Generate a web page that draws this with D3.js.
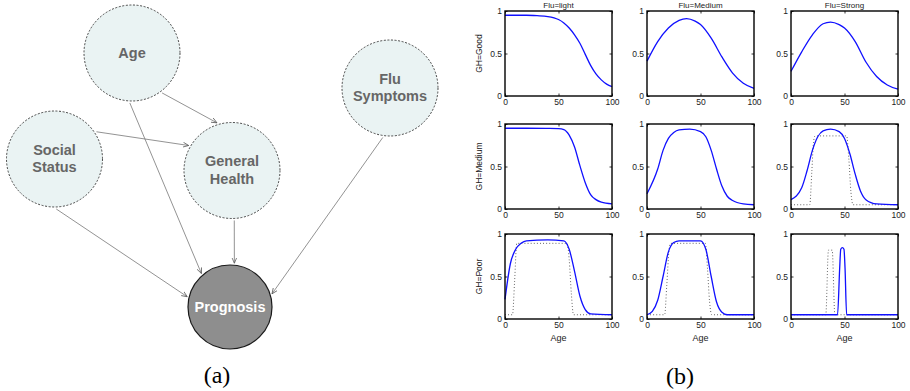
<!DOCTYPE html>
<html>
<head>
<meta charset="utf-8">
<script src="https://cdn.jsdelivr.net/npm/d3@7/dist/d3.min.js"></script>
<style>
  body { margin: 0; background: #fff; }
  svg { display: block; }
</style>
</head>
<body>
<script>
// ---- data: (a) network ----
const nodeIds = ['age', 'flu', 'social', 'gh', 'prog'];
const nodeLabels = [['Age'], ['Flu', 'Symptoms'], ['Social', 'Status'], ['General', 'Health'], ['Prognosis']];
const edgeList = [['age', 'gh'], ['social', 'gh'], ['age', 'prog'], ['social', 'prog'], ['gh', 'prog'], ['flu', 'prog']];

// ---- data: (b) conditional curves ----
const fluLevels = ['light', 'Medium', 'Strong'];
const ghLevels = ['Good', 'Medium', 'Poor'];
const xTicks = [0, 50, 100];
const yTicks = [0, 0.5, 1];

const goodLight = [[0,.95],[20,.95],[30,.945],[40,.935],[50,.9],[55,.86],[60,.8],[65,.72],[70,.62],[75,.49],[80,.36],[85,.26],[90,.19],[95,.14],[100,.11]];
const goodMedium = [[0,.41],[10,.64],[20,.8],[30,.89],[37,.91],[45,.88],[50,.84],[60,.68],[70,.46],[80,.27],[90,.15],[100,.09]];
const goodStrong = [[0,.29],[10,.52],[20,.72],[30,.85],[37,.87],[45,.84],[50,.8],[60,.64],[70,.4],[80,.23],[90,.13],[100,.08]];
const medLight = [[0,.95],[20,.95],[40,.948],[50,.945],[55,.935],[60,.87],[65,.73],[70,.51],[75,.31],[80,.17],[85,.11],[90,.08],[100,.06]];
const medMedium = [[0,.18],[10,.47],[15,.69],[20,.83],[25,.9],[30,.93],[40,.94],[50,.91],[55,.85],[60,.69],[65,.47],[70,.27],[75,.15],[80,.1],[90,.06],[100,.05]];
const medStrong = [[0,.11],[10,.25],[15,.45],[20,.69],[25,.85],[30,.92],[37,.94],[45,.91],[50,.83],[55,.65],[60,.41],[65,.21],[70,.11],[80,.06],[100,.05]];
const poorLight = [[0,.23],[5,.65],[10,.82],[15,.89],[20,.92],[40,.93],[55,.92],[60,.82],[65,.56],[70,.27],[75,.11],[80,.06],[100,.05]];
const poorMedium = [[0,.05],[5,.09],[10,.22],[15,.5],[20,.79],[25,.9],[30,.92],[50,.92],[55,.82],[60,.5],[65,.2],[70,.08],[75,.05],[100,.05]];
const poorStrong = [[0,.05],[43.5,.05],[45.5,.6],[46.5,.82],[48,.84],[49.5,.82],[50.5,.6],[52,.05],[100,.05]];

// dotted reference curves
const medStrongDot = [[0,.05],[17.5,.05],[19.5,.45],[21,.78],[22.5,.86],[52,.86],[54,.6],[56,.2],[58,.05],[100,.05]];
const poorLightDot = [[0,.05],[7,.05],[9,.45],[11,.89],[58,.89],[60,.7],[62,.3],[64,.05],[100,.05]];
const poorMediumDot = [[0,.05],[16.5,.05],[18.5,.4],[20.5,.8],[22,.89],[54.5,.89],[56.5,.6],[58.5,.2],[60.5,.05],[100,.05]];
const poorStrongDot = [[0,.05],[32.5,.05],[35,.81],[38.5,.81],[41,.05],[100,.05]];

const solid = [[goodLight, goodMedium, goodStrong], [medLight, medMedium, medStrong], [poorLight, poorMedium, poorStrong]];
const dotted = [[null, null, null], [null, null, medStrongDot], [poorLightDot, poorMediumDot, poorStrongDot]];

// ---- layout ----
const W = 910, H = 391;
const svg = d3.select('body').append('svg').attr('width', W).attr('height', H);

// node placement (pixel layout, not data)
const layout = {
  age: { x: 132, y: 53, r: 48 },
  flu: { x: 390, y: 88, r: 48 },
  social: { x: 54.5, y: 159, r: 48 },
  gh: { x: 232, y: 170.5, r: 48 },
  prog: { x: 230, y: 307, r: 42 }
};
// attachment angles (deg) of each edge at source / target
const edgeAngles = [[53, -107.5], [-33, -150], [92.5, -130.5], [88, -166.5], [87.4, -84.3], [98.3, -17.4]];

svg.append('defs').append('marker')
  .attr('id', 'arr').attr('viewBox', '0 0 8 8').attr('refX', 7.5).attr('refY', 4)
  .attr('markerWidth', 6).attr('markerHeight', 6).attr('markerUnits', 'userSpaceOnUse')
  .attr('orient', 'auto')
  .append('path').attr('d', 'M0,0.8 L7.5,4 L0,7.2').attr('fill', 'none').attr('stroke', '#555').attr('stroke-width', 1);

const rad = d => d * Math.PI / 180;
svg.append('g').selectAll('line').data(edgeList).join('line')
  .attr('x1', (d, i) => layout[d[0]].x + (layout[d[0]].r + 2) * Math.cos(rad(edgeAngles[i][0])))
  .attr('y1', (d, i) => layout[d[0]].y + (layout[d[0]].r + 2) * Math.sin(rad(edgeAngles[i][0])))
  .attr('x2', (d, i) => layout[d[1]].x + (layout[d[1]].r + 2) * Math.cos(rad(edgeAngles[i][1])))
  .attr('y2', (d, i) => layout[d[1]].y + (layout[d[1]].r + 2) * Math.sin(rad(edgeAngles[i][1])))
  .attr('stroke', '#777').attr('stroke-width', 0.8)
  .attr('marker-end', 'url(#arr)');

const node = svg.append('g').selectAll('g').data(nodeIds).join('g')
  .attr('transform', d => `translate(${layout[d].x},${layout[d].y})`);
node.append('circle')
  .attr('r', d => layout[d].r)
  .attr('fill', d => d === 'prog' ? '#8e8e8e' : '#eaf3f3')
  .attr('stroke', d => d === 'prog' ? '#1a1a1a' : '#333')
  .attr('stroke-width', d => d === 'prog' ? 1.2 : 0.9)
  .attr('stroke-dasharray', d => d === 'prog' ? null : '2,1.6');
node.each(function (d, i) {
  const lines = nodeLabels[i];
  const t = d3.select(this).append('text')
    .attr('text-anchor', 'middle')
    .attr('font-family', '"Liberation Sans", Arial, sans-serif')
    .attr('font-weight', 'bold').attr('font-size', 14.5)
    .attr('fill', d === 'prog' ? '#fff' : '#666');
  lines.forEach((s, j) => {
    t.append('tspan').attr('x', 0)
      .attr('y', lines.length === 1 ? 5 : (j === 0 ? -4.5 : 13))
      .text(s);
  });
});

svg.append('text').attr('x', 217).attr('y', 383).attr('text-anchor', 'middle')
  .attr('font-family', '"Liberation Serif", "DejaVu Serif", serif').attr('font-size', 24).text('(a)');
svg.append('text').attr('x', 680).attr('y', 384).attr('text-anchor', 'middle')
  .attr('font-family', '"Liberation Serif", "DejaVu Serif", serif').attr('font-size', 24).text('(b)');

// ---- (b) small multiples ----
const colX = [505, 647, 791];
const rowY = [11, 124, 234];
const pw = 107, ph = 85;
const x = d3.scaleLinear().domain([0, 100]).range([0, pw]);
const y = d3.scaleLinear().domain([0, 1]).range([ph, 0]);
const line = d3.line().x(d => x(d[0])).y(d => y(d[1])).curve(d3.curveMonotoneX);
const font = '"Liberation Sans", Arial, sans-serif';

ghLevels.forEach((gh, r) => {
  fluLevels.forEach((flu, c) => {
    const g = svg.append('g').attr('transform', `translate(${colX[c]},${rowY[r]})`);

    const styleAxis = sel => {
      sel.selectAll('text').attr('font-family', font).attr('font-size', 8.5).attr('fill', '#222');
      sel.selectAll('.tick line').attr('stroke', '#000').attr('stroke-width', 0.8);
      sel.select('.domain').remove();
    };
    g.append('g').call(d3.axisLeft(y).tickValues(yTicks).tickSize(-2.5).tickPadding(3).tickFormat(d3.format('~g'))).call(styleAxis);
    g.append('g').attr('transform', `translate(0,${ph})`)
      .call(d3.axisBottom(x).tickValues(xTicks).tickSize(-2.5).tickPadding(3)).call(styleAxis);
    g.append('g').attr('transform', `translate(${pw},0)`)
      .call(d3.axisRight(y).tickValues(yTicks).tickSize(-2.5).tickFormat('')).call(styleAxis);
    g.append('g').call(d3.axisTop(x).tickValues(xTicks).tickSize(-2.5).tickFormat('')).call(styleAxis);

    if (dotted[r][c]) {
      g.append('path').datum(dotted[r][c]).attr('d', line)
        .attr('fill', 'none').attr('stroke', '#444').attr('stroke-width', 0.9)
        .attr('stroke-dasharray', '0.9,2.2');
    }
    g.append('path').datum(solid[r][c]).attr('d', line)
      .attr('fill', 'none').attr('stroke', '#1010ff').attr('stroke-width', 1.3);

    g.append('rect').attr('width', pw).attr('height', ph)
      .attr('fill', 'none').attr('stroke', '#000').attr('stroke-width', 1.4);

    if (r === 0) {
      g.append('text').attr('x', pw / 2).attr('y', -3.5).attr('text-anchor', 'middle')
        .attr('font-family', font).attr('font-size', 8).attr('fill', '#222').text('Flu=' + flu);
    }
    if (c === 0) {
      g.append('text').attr('transform', `translate(-23,${ph / 2}) rotate(-90)`)
        .attr('text-anchor', 'middle').attr('font-family', font).attr('font-size', 8.5)
        .attr('fill', '#222').text('GH=' + gh);
    }
    if (r === 2) {
      g.append('text').attr('x', pw / 2).attr('y', ph + 22).attr('text-anchor', 'middle')
        .attr('font-family', font).attr('font-size', 9).attr('fill', '#222').text('Age');
    }
  });
});
</script>
</body>
</html>
